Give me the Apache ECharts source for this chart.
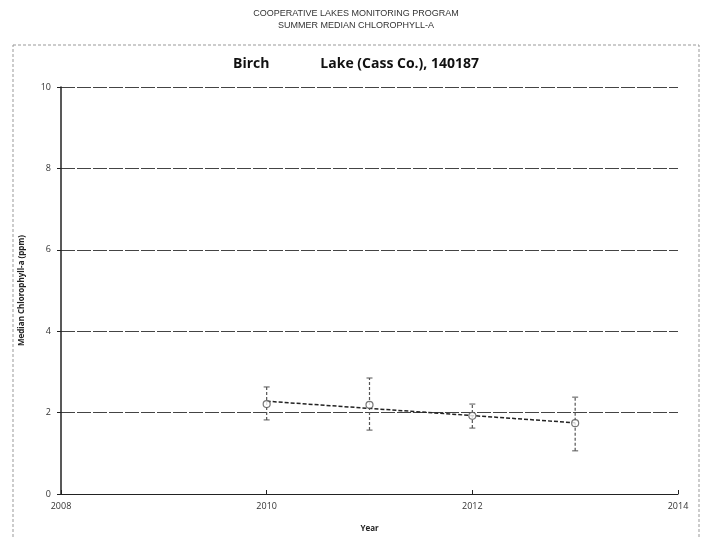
<!DOCTYPE html>
<html>
<head>
<meta charset="utf-8">
<title>Birch Lake chlorophyll</title>
<script src="https://cdn.jsdelivr.net/npm/echarts@6/dist/echarts.min.js"></script>
<style>
  html, body { margin: 0; padding: 0; background: #fff; }
  #main { width: 712px; height: 538px; }
</style>
</head>
<body>
<div id="main"></div>
<script type="text/javascript">
// values
var years = [2010, 2011, 2012, 2013];
var medians = [2.21, 2.19, 1.92, 1.74];
var errLow = [1.82, 1.57, 1.62, 1.06];
var errHigh = [2.63, 2.85, 2.21, 2.38];
var trendYears = [2010, 2013];
var trendValues = [2.28, 1.75];

var myChart = echarts.init(document.getElementById('main'));

var pts = [], bars = [], trend = [];
for (var i = 0; i < years.length; i++) {
  pts.push([years[i], medians[i]]);
  bars.push([years[i], errLow[i], errHigh[i]]);
}
for (var j = 0; j < trendYears.length; j++) {
  trend.push([trendYears[j], trendValues[j]]);
}

var option = {
  backgroundColor: '#fff',
  animation: false,
  title: [{
    text: 'COOPERATIVE LAKES MONITORING PROGRAM\nSUMMER MEDIAN CHLOROPHYLL-A',
    left: 'center',
    top: 3,
    textStyle: { fontFamily: 'Liberation Sans', fontSize: 9, fontWeight: 'normal', color: '#333', lineHeight: 12 }
  }, {
    text: 'Birch              Lake (Cass Co.), 140187',
    left: 228,
    top: 52,
    textStyle: { fontFamily: 'Open Sans', fontSize: 14, fontWeight: 'bold', color: '#111' }
  }],
  graphic: [{
    type: 'rect',
    shape: { x: 13, y: 45, width: 686, height: 500 },
    style: { fill: 'none', stroke: '#999', lineWidth: 1, lineDash: [3, 2] },
    silent: true
  }],
  grid: { left: 61, right: 34, top: 87, bottom: 44 },
  xAxis: {
    type: 'value',
    min: 2008,
    max: 2014,
    interval: 2,
    name: 'Year',
    nameLocation: 'middle',
    nameGap: 31,
    nameTextStyle: { fontFamily: 'Open Sans', fontSize: 8, fontWeight: 'bold', color: '#222' },
    axisLine: { lineStyle: { color: '#222', width: 1 } },
    axisTick: { show: true, inside: true, length: 4, lineStyle: { color: '#222' } },
    axisLabel: { fontFamily: 'Open Sans', fontSize: 9, color: '#333', margin: 8, formatter: function (v) { return String(v); } },
    splitLine: { show: false }
  },
  yAxis: {
    type: 'value',
    min: 0,
    max: 10,
    interval: 2,
    name: 'Median Chlorophyll-a (ppm)',
    nameLocation: 'middle',
    nameGap: 35,
    nameTextStyle: { fontFamily: 'Open Sans', fontSize: 8, fontWeight: 'bold', color: '#222' },
    axisLine: { show: true, lineStyle: { color: '#222', width: 1.5 } },
    axisTick: { show: true, length: 4, lineStyle: { color: '#222' } },
    axisLabel: { fontFamily: 'Open Sans', fontSize: 9, color: '#333', margin: 10 },
    splitLine: { show: true, lineStyle: { color: '#444', type: [14, 2], width: 1 } }
  },
  series: [{
    name: 'range',
    type: 'custom',
    data: bars,
    renderItem: function (params, api) {
      var x = api.value(0);
      var lo = api.coord([x, api.value(1)]);
      var hi = api.coord([x, api.value(2)]);
      var cap = 3;
      var st = { stroke: '#555', lineWidth: 1.2, lineDash: [3, 2] };
      return {
        type: 'group',
        children: [
          { type: 'line', shape: { x1: lo[0], y1: lo[1], x2: hi[0], y2: hi[1] }, style: st },
          { type: 'line', shape: { x1: lo[0] - cap, y1: lo[1], x2: lo[0] + cap, y2: lo[1] }, style: { stroke: '#555', lineWidth: 1 } },
          { type: 'line', shape: { x1: hi[0] - cap, y1: hi[1], x2: hi[0] + cap, y2: hi[1] }, style: { stroke: '#555', lineWidth: 1 } }
        ]
      };
    },
    z: 2
  }, {
    name: 'trend',
    type: 'line',
    data: trend,
    symbol: 'none',
    lineStyle: { color: '#222', width: 1.5, type: [4, 2] },
    z: 3
  }, {
    name: 'median',
    type: 'scatter',
    data: pts,
    symbol: 'circle',
    symbolSize: 7,
    itemStyle: { color: '#fff', borderColor: '#555', borderWidth: 1.2 },
    z: 4
  }]
};

myChart.setOption(option);
</script>
</body>
</html>
